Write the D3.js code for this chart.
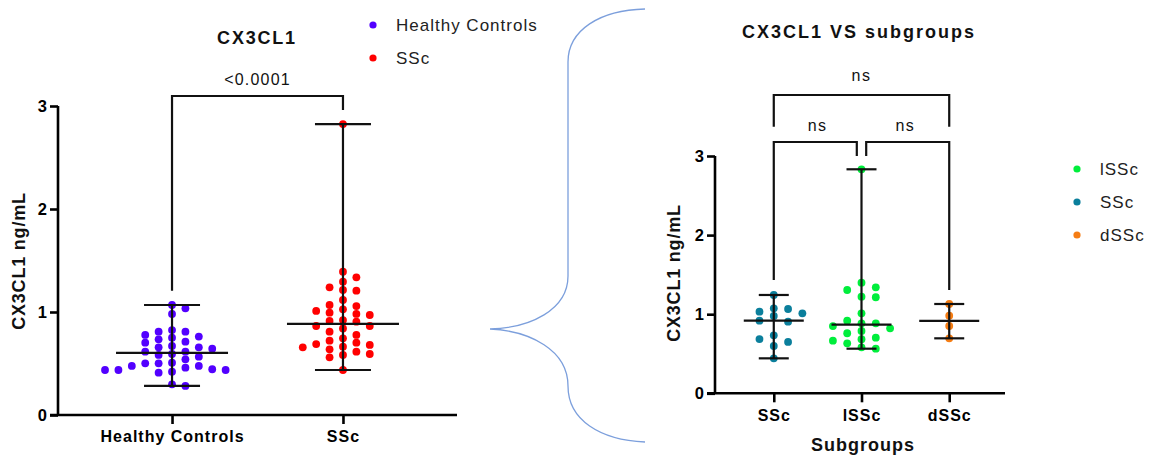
<!DOCTYPE html>
<html>
<head>
<meta charset="utf-8">
<script src="https://cdn.jsdelivr.net/npm/d3@7"></script>
<style>
  body { margin: 0; background: #fff; }
  svg { display: block; font-family: "Liberation Sans", Arial, sans-serif; }
</style>
</head>
<body>
<svg id="chart" width="1155" height="458"></svg>
<script>
// values (ng/mL)
var healthyControls = [1.068, 1.036, 0.981, 0.809, 0.809, 0.825, 0.777, 0.735, 0.712, 0.761, 0.751, 0.702,
  0.657, 0.657, 0.670, 0.644, 0.592, 0.615, 0.615, 0.566, 0.583, 0.541, 0.476, 0.502, 0.476, 0.502, 0.508,
  0.421, 0.437, 0.437, 0.444, 0.459, 0.437, 0.411, 0.282, 0.298];
var sscAll = [2.825, 1.391, 1.294, 1.337, 1.214, 1.240, 1.207, 1.117, 1.026, 1.058, 1.068, 1.010, 0.981, 0.971,
  0.993, 0.922, 0.906, 0.913, 0.864, 0.864, 0.841, 0.809, 0.777, 0.744, 0.722, 0.680, 0.689, 0.702, 0.663,
  0.657, 0.638, 0.615, 0.583, 0.592, 0.560, 0.437];
var sscSub = [1.243, 1.011, 1.032, 1.066, 1.074, 0.977, 0.905, 0.918, 0.733, 0.686, 0.649, 0.598, 0.442];
var lsscSub = [2.832, 1.306, 1.398, 1.340, 1.214, 1.222, 1.011, 0.885, 0.918, 0.885, 0.788, 0.822, 0.850,
  0.759, 0.665, 0.683, 0.703, 0.632, 0.564, 0.581];
var dsscSub = [1.129, 0.981, 0.851, 0.695];

var leftCategories = ['Healthy Controls', 'SSc'];
var rightCategories = ['SSc', 'lSSc', 'dSSc'];
var yTicks = [0, 1, 2, 3];
var leftColours = ['#5200ff', '#ff0000'];
var rightColours = ['#0b7f9c', '#00ee3c', '#f57d14'];
var rightLegend = ['lSSc', 'SSc', 'dSSc'];
var rightLegendColours = ['#00ee3c', '#0b7f9c', '#f57d14'];

var svg = d3.select('#chart');
var FONT = '"Liberation Sans", Arial, sans-serif';

// simple column scatter: quantised horizontal offsets, no overlaps,
// each new point goes to the lighter side when both are free
function swarm(values, y, step) {
    var order = values.map(function (v, i) { return i; })
        .sort(function (a, b) { return values[b] - values[a]; });
    var placed = [];
    var offsets = new Array(values.length);
    var balance = 0;
    order.forEach(function (i) {
        var py = y(values[i]);
        var side = balance > 0 ? -1 : 1;
        var cands = [0];
        for (var k = 1; k <= 12; k++) {
            cands.push(side * k * step / 2, -side * k * step / 2);
        }
        for (var c = 0; c < cands.length; c++) {
            var ok = placed.every(function (p) {
                return !(Math.abs(p.x - cands[c]) < step * 0.95 && Math.abs(p.y - py) < 7.6);
            });
            if (ok) {
                offsets[i] = cands[c];
                placed.push({ x: cands[c], y: py });
                balance += Math.sign(cands[c]);
                break;
            }
        }
    });
    return offsets;
}

function drawAxes(g, x, y, x0, x1) {
    var ya = g.append('g')
        .attr('transform', 'translate(' + x0 + ',0)')
        .call(d3.axisLeft(y).tickValues(yTicks).tickFormat(d3.format('d')).tickSize(8).tickSizeOuter(0).tickPadding(3));
    var xa = g.append('g')
        .attr('transform', 'translate(0,' + y(0) + ')')
        .call(d3.axisBottom(x).tickSize(9).tickSizeOuter(0).tickPadding(7));
    [ya, xa].forEach(function (a) {
        a.selectAll('path, line').attr('stroke', '#000').attr('stroke-width', 2.6);
        a.selectAll('text').attr('fill', '#000').style('font', 'bold 16.5px ' + FONT);
    });
    xa.selectAll('text').style('font', 'bold 16px ' + FONT).style('letter-spacing', '1px');
    ya.select('.domain').attr('d', 'M0,' + y(0) + 'V' + y(3));
    xa.select('.domain').attr('d', 'M' + (x0 - 8) + ',0H' + x1);
}

function drawGroup(g, vals, cx, y, colour, step, medW, capW) {
    var off = swarm(vals, y, step);
    g.append('g').selectAll('circle')
        .data(vals)
        .join('circle')
        .attr('cx', function (d, i) { return cx + off[i]; })
        .attr('cy', function (d) { return y(d); })
        .attr('r', 3.9)
        .attr('fill', colour);
    var ext = d3.extent(vals);
    var med = d3.median(vals);
    var lines = g.append('g').attr('stroke', '#111').attr('stroke-width', 2.2);
    lines.append('line').attr('x1', cx).attr('x2', cx).attr('y1', y(ext[0])).attr('y2', y(ext[1]));
    lines.append('line').attr('x1', cx - capW).attr('x2', cx + capW).attr('y1', y(ext[0])).attr('y2', y(ext[0]));
    lines.append('line').attr('x1', cx - capW).attr('x2', cx + capW).attr('y1', y(ext[1])).attr('y2', y(ext[1]));
    lines.append('line').attr('x1', cx - medW).attr('x2', cx + medW).attr('y1', y(med)).attr('y2', y(med));
}

function bracket(g, xa, xb, ya, yb, ytop) {
    g.append('path')
        .attr('d', 'M' + xa + ',' + ya + 'V' + ytop + 'H' + xb + 'V' + yb)
        .attr('fill', 'none').attr('stroke', '#111').attr('stroke-width', 2.2);
}

function label(g, txt, x, y, size, weight, spacing) {
    return g.append('text').attr('x', x).attr('y', y)
        .attr('text-anchor', 'middle')
        .style('font', weight + ' ' + size + 'px ' + FONT)
        .style('letter-spacing', (spacing || 0) + 'px')
        .attr('fill', '#111')
        .text(txt);
}

// ---- left chart ----
var yL = d3.scaleLinear().domain([0, 3]).range([415, 106]);
var xL = d3.scalePoint().domain(leftCategories).range([58, 457]).padding(0.667);
var left = svg.append('g');
drawAxes(left, xL, yL, 58, 457);
drawGroup(left, healthyControls, xL('Healthy Controls'), yL, leftColours[0], 13.4, 56, 28);
drawGroup(left, sscAll, xL('SSc'), yL, leftColours[1], 13.4, 56, 28);
bracket(left, xL('Healthy Controls'), xL('SSc'), yL(1.207), yL(2.96), yL(3.097));
label(left, '<0.0001', (xL('Healthy Controls') + xL('SSc')) / 2, 85, 16, 'normal', 1.2);
label(left, 'CX3CL1', 257, 44, 18, 'bold', 1.8);
label(left, 'CX3CL1 ng/mL', 0, 0, 18, 'bold', 0.8)
    .attr('transform', 'translate(25,261) rotate(-90)');

var legL = left.append('g');
leftCategories.forEach(function (c, i) {
    legL.append('circle').attr('cx', 373).attr('cy', 25 + i * 33).attr('r', 3.6).attr('fill', leftColours[i]);
    legL.append('text').attr('x', 396).attr('y', 31 + i * 33)
        .style('font', '17px ' + FONT).style('letter-spacing', '1px').attr('fill', '#222').text(c);
});

// ---- right chart ----
var yR = d3.scaleLinear().domain([0, 3]).range([393.3, 156]);
var xR = d3.scalePoint().domain(rightCategories).range([715, 1008]).padding(0.67);
var right = svg.append('g');
drawAxes(right, xR, yR, 715, 1005);
drawGroup(right, sscSub, xR('SSc'), yR, rightColours[0], 14.3, 30, 15);
drawGroup(right, lsscSub, xR('lSSc'), yR, rightColours[1], 14.3, 30, 15);
drawGroup(right, dsscSub, xR('dSSc'), yR, rightColours[2], 14.3, 30, 15);
bracket(right, xR('SSc'), xR('dSSc'), yR(3.37), yR(3.37), yR(3.771));
bracket(right, xR('SSc'), xR('lSSc') - 4.7, yR(1.432), yR(3.0), yR(3.177));
bracket(right, xR('lSSc') + 4.7, xR('dSSc'), yR(3.0), yR(1.306), yR(3.177));
label(right, 'ns', (xR('SSc') + xR('dSSc')) / 2, 81, 16, 'normal', 1.5);
label(right, 'ns', (xR('SSc') + xR('lSSc')) / 2, 131, 16, 'normal', 1.5);
label(right, 'ns', (xR('lSSc') + xR('dSSc')) / 2, 131, 16, 'normal', 1.5);
label(right, 'CX3CL1 VS subgroups', 859, 38, 18, 'bold', 2);
label(right, 'Subgroups', 863, 451, 18, 'bold', 1);
label(right, 'CX3CL1 ng/mL', 0, 0, 18, 'bold', 0.8)
    .attr('transform', 'translate(680,273) rotate(-90)');

var legR = right.append('g');
rightLegend.forEach(function (c, i) {
    legR.append('circle').attr('cx', 1077).attr('cy', 169 + i * 33).attr('r', 3.6).attr('fill', rightLegendColours[i]);
    legR.append('text').attr('x', 1100).attr('y', 175 + i * 33)
        .style('font', '17px ' + FONT).style('letter-spacing', '1px').attr('fill', '#222').text(c);
});

// ---- brace linking the two panels ----
svg.append('path')
    .attr('d', 'M645,9 C600,10 568,30 568,62 L568,276 C568,310 530,328 490,329 ' +
        'C530,331 568,350 568,386 C568,420 600,440 645,442')
    .attr('fill', 'none')
    .attr('stroke', '#7c9fdc')
    .attr('stroke-width', 1.3);
</script>
</body>
</html>
